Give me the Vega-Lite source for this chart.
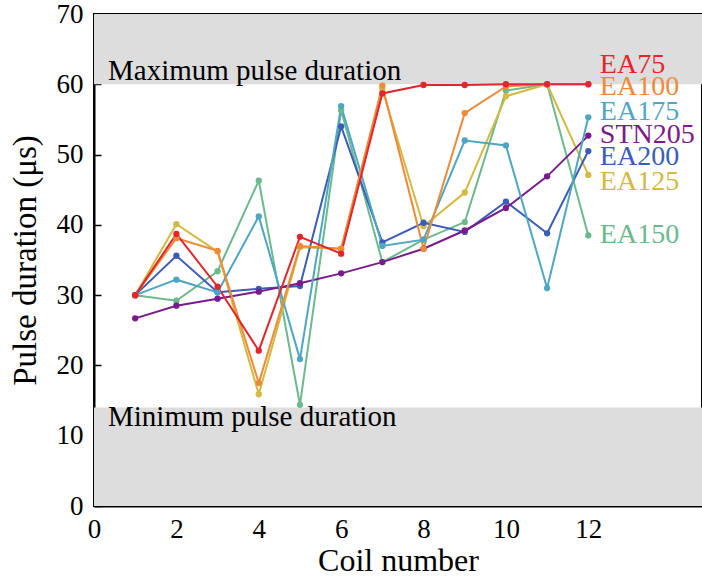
{
  "$schema": "https://vega.github.io/schema/vega-lite/v6.json",
  "width": 608,
  "height": 492,
  "autosize": "none",
  "padding": {"left": 94, "top": 14, "right": 0, "bottom": 74},
  "background": "white",
  "config": {
    "font": "Liberation Serif",
    "view": {"stroke": "black", "strokeWidth": 2},
    "axis": {
      "grid": false,
      "domainColor": "black",
      "domainWidth": 2,
      "tickColor": "black",
      "tickWidth": 1.5,
      "tickSize": -7,
      "labelColor": "black",
      "labelFontSize": 27,
      "labelFont": "Liberation Serif",
      "labelFlush": false,
      "titleFont": "Liberation Serif",
      "titleFontSize": 32,
      "titleFontWeight": "normal",
      "titleColor": "black"
    }
  },
  "datasets": {
    "bands": [
      {"name": "max", "lo": 60, "hi": 70},
      {"name": "min", "lo": 0, "hi": 14}
    ],
    "notes": [
      {"text": "Maximum pulse duration", "coil": 0.34, "us": 60.6},
      {"text": "Minimum pulse duration", "coil": 0.34, "us": 11.4}
    ],
    "pulses": [
      {"series": "EA150", "coil": 1, "us": 30.0},
      {"series": "EA150", "coil": 2, "us": 29.2},
      {"series": "EA150", "coil": 3, "us": 33.4},
      {"series": "EA150", "coil": 4, "us": 46.3},
      {"series": "EA150", "coil": 5, "us": 14.4},
      {"series": "EA150", "coil": 6, "us": 56.3},
      {"series": "EA150", "coil": 7, "us": 34.7},
      {"series": "EA150", "coil": 8, "us": 37.9},
      {"series": "EA150", "coil": 9, "us": 40.4},
      {"series": "EA150", "coil": 10, "us": 59.1},
      {"series": "EA150", "coil": 11, "us": 60.0},
      {"series": "EA150", "coil": 12, "us": 38.5},
      {"series": "EA125", "coil": 1, "us": 30.0},
      {"series": "EA125", "coil": 2, "us": 40.1},
      {"series": "EA125", "coil": 3, "us": 36.2},
      {"series": "EA125", "coil": 4, "us": 15.9},
      {"series": "EA125", "coil": 5, "us": 36.8},
      {"series": "EA125", "coil": 6, "us": 36.6},
      {"series": "EA125", "coil": 7, "us": 59.3},
      {"series": "EA125", "coil": 8, "us": 39.8},
      {"series": "EA125", "coil": 9, "us": 44.6},
      {"series": "EA125", "coil": 10, "us": 58.3},
      {"series": "EA125", "coil": 11, "us": 60.0},
      {"series": "EA125", "coil": 12, "us": 47.1},
      {"series": "EA200", "coil": 1, "us": 30.0},
      {"series": "EA200", "coil": 2, "us": 35.6},
      {"series": "EA200", "coil": 3, "us": 30.4},
      {"series": "EA200", "coil": 4, "us": 30.9},
      {"series": "EA200", "coil": 5, "us": 31.3},
      {"series": "EA200", "coil": 6, "us": 54.0},
      {"series": "EA200", "coil": 7, "us": 37.5},
      {"series": "EA200", "coil": 8, "us": 40.3},
      {"series": "EA200", "coil": 9, "us": 39.0},
      {"series": "EA200", "coil": 10, "us": 43.3},
      {"series": "EA200", "coil": 11, "us": 38.8},
      {"series": "EA200", "coil": 12, "us": 50.5},
      {"series": "STN205", "coil": 1, "us": 26.7},
      {"series": "STN205", "coil": 2, "us": 28.5},
      {"series": "STN205", "coil": 3, "us": 29.5},
      {"series": "STN205", "coil": 4, "us": 30.5},
      {"series": "STN205", "coil": 5, "us": 31.7},
      {"series": "STN205", "coil": 6, "us": 33.1},
      {"series": "STN205", "coil": 7, "us": 34.7},
      {"series": "STN205", "coil": 8, "us": 36.6},
      {"series": "STN205", "coil": 9, "us": 39.2},
      {"series": "STN205", "coil": 10, "us": 42.4},
      {"series": "STN205", "coil": 11, "us": 46.9},
      {"series": "STN205", "coil": 12, "us": 52.7},
      {"series": "EA175", "coil": 1, "us": 30.0},
      {"series": "EA175", "coil": 2, "us": 32.2},
      {"series": "EA175", "coil": 3, "us": 30.4},
      {"series": "EA175", "coil": 4, "us": 41.2},
      {"series": "EA175", "coil": 5, "us": 20.9},
      {"series": "EA175", "coil": 6, "us": 56.9},
      {"series": "EA175", "coil": 7, "us": 37.0},
      {"series": "EA175", "coil": 8, "us": 37.9},
      {"series": "EA175", "coil": 9, "us": 52.0},
      {"series": "EA175", "coil": 10, "us": 51.3},
      {"series": "EA175", "coil": 11, "us": 31.0},
      {"series": "EA175", "coil": 12, "us": 55.3},
      {"series": "EA100", "coil": 1, "us": 30.0},
      {"series": "EA100", "coil": 2, "us": 38.1},
      {"series": "EA100", "coil": 3, "us": 36.3},
      {"series": "EA100", "coil": 4, "us": 17.5},
      {"series": "EA100", "coil": 5, "us": 37.0},
      {"series": "EA100", "coil": 6, "us": 36.6},
      {"series": "EA100", "coil": 7, "us": 59.8},
      {"series": "EA100", "coil": 8, "us": 36.6},
      {"series": "EA100", "coil": 9, "us": 55.9},
      {"series": "EA100", "coil": 10, "us": 59.7},
      {"series": "EA100", "coil": 11, "us": 60.0},
      {"series": "EA100", "coil": 12, "us": 60.0},
      {"series": "EA75", "coil": 1, "us": 30.0},
      {"series": "EA75", "coil": 2, "us": 38.7},
      {"series": "EA75", "coil": 3, "us": 31.2},
      {"series": "EA75", "coil": 4, "us": 22.1},
      {"series": "EA75", "coil": 5, "us": 38.3},
      {"series": "EA75", "coil": 6, "us": 35.9},
      {"series": "EA75", "coil": 7, "us": 58.7},
      {"series": "EA75", "coil": 8, "us": 59.9},
      {"series": "EA75", "coil": 9, "us": 59.9},
      {"series": "EA75", "coil": 10, "us": 60.0},
      {"series": "EA75", "coil": 11, "us": 60.0},
      {"series": "EA75", "coil": 12, "us": 60.0}
    ],
    "labels": [
      {"series": "EA75", "coil": 12.28, "us": 62.8},
      {"series": "EA100", "coil": 12.28, "us": 59.6},
      {"series": "EA175", "coil": 12.28, "us": 56.1},
      {"series": "STN205", "coil": 12.28, "us": 52.8},
      {"series": "EA200", "coil": 12.28, "us": 49.6},
      {"series": "EA125", "coil": 12.28, "us": 46.1},
      {"series": "EA150", "coil": 12.28, "us": 38.5}
    ]
  },
  "layer": [
    {
      "data": {"name": "bands"},
      "mark": {"type": "rect", "color": "#dddddd"},
      "encoding": {
        "y": {"field": "lo", "type": "quantitative", "scale": {"domain": [0, 70], "nice": false},
              "axis": {"values": [0, 10, 20, 30, 40, 50, 60, 70], "labelPadding": 18, "title": "Pulse duration (μs)", "titlePadding": 14, "titleFontSize": 33}},
        "y2": {"field": "hi"}
      }
    },
    {
      "data": {"name": "notes"},
      "mark": {"type": "text", "align": "left", "baseline": "alphabetic", "fontSize": 29, "color": "black"},
      "encoding": {
        "x": {"field": "coil", "type": "quantitative", "scale": {"domain": [0, 14.76], "nice": false},
              "axis": {"values": [0, 2, 4, 6, 8, 10, 12], "labelPadding": 17, "title": "Coil number", "titlePadding": 3}},
        "y": {"field": "us", "type": "quantitative"},
        "text": {"field": "text"}
      }
    },
    {
      "data": {"name": "pulses"},
      "mark": {"type": "line", "strokeWidth": 2},
      "encoding": {
        "x": {"field": "coil", "type": "quantitative", "axis": null},
        "y": {"field": "us", "type": "quantitative"},
        "color": {
          "field": "series", "type": "nominal", "legend": null,
          "scale": {
            "domain": ["EA75", "EA100", "EA175", "STN205", "EA200", "EA125", "EA150"],
            "range": ["#e2262b", "#ef8a38", "#4fa6c3", "#7a1b8b", "#3b5db8", "#d3ba42", "#6cb98d"]
          }
        }
      }
    },
    {
      "data": {"name": "pulses"},
      "mark": {"type": "point", "filled": true, "opacity": 1, "size": 40},
      "encoding": {
        "x": {"field": "coil", "type": "quantitative", "axis": null},
        "y": {"field": "us", "type": "quantitative"},
        "color": {"field": "series", "type": "nominal", "legend": null}
      }
    },
    {
      "data": {"name": "labels"},
      "mark": {"type": "text", "align": "left", "baseline": "middle", "fontSize": 28},
      "encoding": {
        "x": {"field": "coil", "type": "quantitative", "axis": null},
        "y": {"field": "us", "type": "quantitative"},
        "text": {"field": "series"},
        "color": {"field": "series", "type": "nominal", "legend": null}
      }
    },
    {
      "data": {"name": "pulses"},
      "mark": {"type": "point", "opacity": 0},
      "encoding": {
        "x": {"field": "coil", "type": "quantitative",
              "axis": {"orient": "top", "values": [0, 2, 4, 6, 8, 10, 12], "labels": false, "domain": false, "title": null}}
      }
    }
  ],
  "resolve": {"axis": {"x": "independent"}}
}
